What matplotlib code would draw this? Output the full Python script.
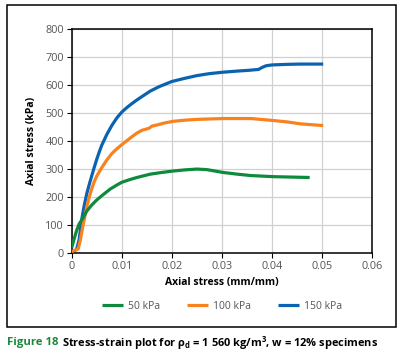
import matplotlib
matplotlib.use('Agg')
import matplotlib.pyplot as plt
from matplotlib.patches import Rectangle

##### Data #####
eps_50 = [0, 0.0005, 0.001, 0.0015, 0.0022, 0.003, 0.004, 0.005, 0.006, 0.0077,
          0.009, 0.01, 0.0115, 0.013, 0.0157, 0.018, 0.0202, 0.0225, 0.025, 0.027,
          0.0302, 0.033, 0.0357, 0.0402, 0.0475]
stress_50 = [20, 52, 82, 105, 124, 150, 172, 190, 205, 229,
             243, 253, 262, 270, 282, 288, 293, 297, 300, 298,
             288, 282, 277, 273, 270]

eps_100 = [0, 0.0005, 0.0013, 0.0017, 0.0022, 0.003, 0.0035, 0.004, 0.0045, 0.005,
           0.006, 0.007, 0.008, 0.009, 0.01, 0.011, 0.012, 0.013, 0.014, 0.015,
           0.0155, 0.016, 0.017, 0.0185, 0.0202, 0.0225, 0.025, 0.0302, 0.0358, 0.0402,
           0.043, 0.0457, 0.0502]
stress_100 = [5, 10, 16, 45, 94, 165, 200, 230, 255, 275,
              305, 332, 355, 372, 387, 401, 415, 428, 438, 443,
              446, 453, 457, 464, 470, 474, 477, 480, 480, 473,
              468, 461, 455]

eps_150 = [0, 0.001, 0.0015, 0.002, 0.0025, 0.003, 0.0035, 0.004, 0.0045, 0.005,
           0.0055, 0.006, 0.007, 0.008, 0.009, 0.01, 0.011, 0.012, 0.013, 0.014,
           0.0157, 0.0175, 0.02, 0.0225, 0.025, 0.0275, 0.0302, 0.033, 0.0355, 0.0373,
           0.038, 0.0388, 0.04, 0.043, 0.0457, 0.0502]
stress_150 = [0, 15, 50, 120, 170, 212, 245, 276, 306, 335,
              361, 385, 423, 455, 482, 503, 519, 533, 546, 558,
              578, 594, 612, 623, 633, 640, 645, 649, 652, 655,
              662, 668, 671, 673, 674, 674]

labels = ['50 kPa', '100 kPa', '150 kPa']
colors = ['#0f8a3c', '#f7821e', '#0b63b0']

xticks = [0, 0.01, 0.02, 0.03, 0.04, 0.05, 0.06]
xticklabels = ['0', '0.01', '0.02', '0.03', '0.04', '0.05', '0.06']
yticks = [0, 100, 200, 300, 400, 500, 600, 700, 800]
########################

plt.rcParams['font.family'] = ['Open Sans', 'DejaVu Sans']
plt.rcParams['mathtext.fontset'] = 'custom'
plt.rcParams['mathtext.bf'] = 'Open Sans:bold'
plt.rcParams['mathtext.rm'] = 'Open Sans'

W, H = 401, 357
fig = plt.figure(figsize=(W / 100, H / 100), dpi=100)
ax = fig.add_axes([71.7 / W, 1 - 253.3 / H, 300.6 / W, 224.6 / H])

series = [(eps_50, stress_50), (eps_100, stress_100), (eps_150, stress_150)]
zorders = [4, 3, 2]
for (x, y), lab, c, z in zip(series, labels, colors, zorders):
    ax.plot(x, y, color=c, lw=2.3, label=lab, zorder=z,
            solid_capstyle='butt', solid_joinstyle='round')

ax.set_xlim(0, 0.06)
ax.set_ylim(0, 800)
ax.set_xticks(xticks)
ax.set_xticklabels(xticklabels)
ax.set_yticks(yticks)
ax.grid(True, color='#d0d0d0', lw=0.9)
ax.set_axisbelow(True)
for s in ax.spines.values():
    s.set_color('black')
    s.set_linewidth(1.1)
ax.tick_params(labelsize=7.8, colors='black', labelcolor='#555555', length=3.5, width=0.8, pad=2)

ax.set_xlabel('Axial stress (mm/mm)', fontsize=7.5, fontweight='bold', labelpad=4)
ax.set_ylabel('Axial stress (kPa)', fontsize=7.5, fontweight='bold', labelpad=6)

leg = ax.legend(loc='upper center', bbox_to_anchor=(0.5, -0.17), ncol=3, frameon=False,
                fontsize=7.5, handlelength=2.0, columnspacing=2.6, handletextpad=0.5)
for t in leg.get_texts():
    t.set_color('#555555')

# outer frame around the chart
fig.patches.append(Rectangle((7 / W, 1 - 327 / H), 389 / W, 322 / H, transform=fig.transFigure,
                             fill=False, edgecolor='black', lw=1.1))

# caption
t1 = fig.text(7 / W, 1 - 343 / H, 'Figure 18', color='#1a8a3a', fontsize=8.2,
              fontweight='bold', va='center')
fig.canvas.draw()
bb = t1.get_window_extent()
fig.text((bb.x1 + 3) / W, 1 - 343 / H,
         r'Stress-strain plot for ρ$_\mathbf{d}$ = 1 560 kg/m$^\mathbf{3}$, w = 12% specimens',
         color='black', fontsize=7.9, fontweight='bold', va='center')

plt.savefig('out.png', dpi=100)
